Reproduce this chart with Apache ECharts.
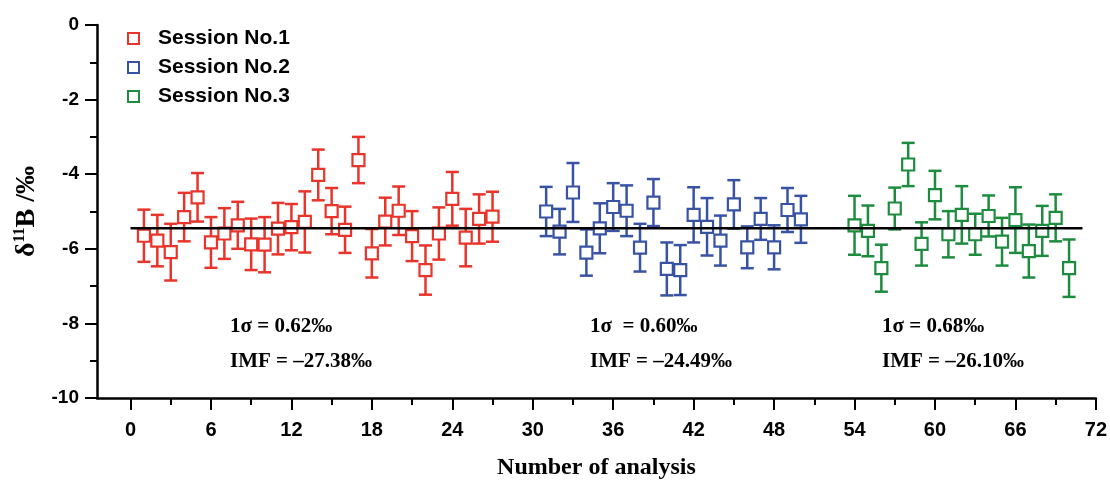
<!DOCTYPE html>
<html>
<head>
<meta charset="utf-8">
<script src="https://cdn.jsdelivr.net/npm/echarts@6/dist/echarts.min.js"></script>
<style>html,body{margin:0;padding:0;background:#fff;}#chart{width:1110px;height:486px;}</style>
</head>
<body>
<div id="chart"></div>
<script>
// ---- data ----
const s1X = [1,2,3,4,5,6,7,8,9,10,11,12,13,14,15,16,17,18,19,20,21,22,23,24,25,26,27];
const s1Y = [-5.65,-5.78,-6.09,-5.15,-4.62,-5.83,-5.59,-5.37,-5.88,-5.89,-5.46,-5.42,-5.28,-4.02,-4.99,-5.49,-3.62,-6.12,-5.27,-4.98,-5.66,-6.57,-5.59,-4.66,-5.70,-5.20,-5.14];
const s1Err = [0.70,0.69,0.76,0.65,0.65,0.68,0.68,0.63,0.69,0.74,0.69,0.62,0.82,0.68,0.62,0.62,0.62,0.65,0.64,0.65,0.67,0.66,0.70,0.72,0.77,0.66,0.67];

const s2X = [31,32,33,34,35,36,37,38,39,40,41,42,43,44,45,46,47,48,49,50];
const s2Y = [-5.00,-5.54,-4.49,-6.10,-5.45,-4.88,-4.98,-5.97,-4.76,-6.54,-6.57,-5.09,-5.41,-5.78,-4.81,-5.96,-5.20,-5.96,-4.96,-5.21];
const s2Err = [0.66,0.61,0.79,0.62,0.67,0.64,0.68,0.64,0.63,0.71,0.67,0.74,0.77,0.67,0.65,0.56,0.56,0.59,0.59,0.63];

const s3X = [54,55,56,57,58,59,60,61,62,63,64,65,66,67,68,69,70];
const s3Y = [-5.37,-5.52,-6.52,-4.92,-3.74,-5.87,-4.56,-5.61,-5.09,-5.61,-5.12,-5.81,-5.23,-6.06,-5.52,-5.17,-6.52];
const s3Err = [0.79,0.68,0.63,0.56,0.58,0.58,0.65,0.62,0.77,0.55,0.55,0.64,0.88,0.71,0.67,0.63,0.77];

const seriesNames = ['Session No.1','Session No.2','Session No.3'];
const meanX = [0, 71];
const meanY = -5.45;

const xMajorTicks = [0,6,12,18,24,30,36,42,48,54,60,66,72];
const xMinorTicks = [3,9,15,21,27,33,39,45,51,57,63,69];

const annot1 = ['1σ = 0.62‰', 'IMF = –27.38‰'];
const annot2 = ['1σ  = 0.60‰', 'IMF = –24.49‰'];
const annot3 = ['1σ = 0.68‰', 'IMF = –26.10‰'];

// ---- styling ----
const colors = ['#e8342a', '#3852a4', '#1e8c3e'];
const sets = [[s1X,s1Y,s1Err],[s2X,s2Y,s2Err],[s3X,s3Y,s3Err]];

function errRender(color) {
  return function (params, api) {
    const x = api.value(0), y = api.value(1), e = api.value(2);
    const t = api.coord([x, y + e]);
    const b = api.coord([x, y - e]);
    const hw = 6.5;
    const st = { stroke: color, lineWidth: 2.5, fill: null };
    return { type: 'group', children: [
      { type: 'line', shape: { x1: t[0], y1: t[1], x2: b[0], y2: b[1] }, style: st },
      { type: 'line', shape: { x1: t[0]-hw, y1: t[1], x2: t[0]+hw, y2: t[1] }, style: st },
      { type: 'line', shape: { x1: b[0]-hw, y1: b[1], x2: b[0]+hw, y2: b[1] }, style: st }
    ]};
  };
}

const series = [];
sets.forEach((s, i) => {
  const [xs, ys, es] = s;
  series.push({
    type: 'custom', xAxisIndex: 0, yAxisIndex: 0, z: 2,
    renderItem: errRender(colors[i]),
    data: xs.map((x, k) => [x, ys[k], es[k]]),
    silent: true
  });
});
series.push({
  type: 'line', z: 5, symbol: 'none', silent: true,
  data: meanX.map(x => [x, meanY]),
  lineStyle: { color: '#000', width: 2.5 }
});
sets.forEach((s, i) => {
  const [xs, ys] = s;
  series.push({
    name: seriesNames[i], type: 'scatter', z: 4,
    symbol: 'rect', symbolSize: 12,
    itemStyle: { color: '#fff', borderColor: colors[i], borderWidth: 2.2, opacity: 1 },
    data: xs.map((x, k) => [x, ys[k]])
  });
});

const serif = '"Liberation Serif","Times New Roman",serif';
function annotText(lines, x) {
  return lines.map((t, k) => ({
    type: 'text', x: x, y: k === 0 ? 327 : 362, silent: true,
    style: { text: t, font: 'bold 21px ' + serif, fill: '#000', verticalAlign: 'middle', align: 'left' }
  }));
}

const option = {
  animation: false,
  backgroundColor: '#fff',
  grid: { left: 97, right: 13, top: 25, bottom: 88 },
  legend: {
    data: seriesNames,
    orient: 'vertical', left: 122, top: 23,
    itemWidth: 11, itemHeight: 11, itemGap: 8,
    selectedMode: false,
    textStyle: { fontFamily: '"Liberation Sans",Arial,sans-serif', fontWeight: 'bold', fontSize: 21, color: '#000', padding: [0,0,0,14] }
  },
  xAxis: [{
    type: 'value', min: -2.5, max: 72, position: 'bottom',
    name: 'Number of analysis', nameLocation: 'middle', nameGap: 58,
    nameTextStyle: { fontFamily: serif, fontWeight: 'bold', fontSize: 24, color: '#000' },
    axisLine: { show: true, onZero: false, lineStyle: { color: '#000', width: 2.5 } },
    axisTick: { show: true, inside: false, length: 12, customValues: xMajorTicks, lineStyle: { color: '#000', width: 2 } },
    axisLabel: { show: true, customValues: xMajorTicks, margin: 22, color: '#000',
      fontFamily: '"Liberation Sans Narrow","Arial Narrow","Liberation Sans",sans-serif', fontWeight: 'bold', fontSize: 20 },
    splitLine: { show: false }
  }, {
    type: 'value', min: -2.5, max: 72, position: 'bottom', gridIndex: 0,
    axisLine: { show: false, onZero: false },
    axisTick: { show: true, inside: false, length: 7, customValues: xMinorTicks, lineStyle: { color: '#000', width: 2 } },
    axisLabel: { show: false },
    splitLine: { show: false }
  }],
  yAxis: {
    type: 'value', min: -10, max: 0, interval: 2,
    name: '{a|δ}{b|11}{a|B /‰}', nameLocation: 'middle', nameGap: 55, nameRotate: 90,
    nameTextStyle: {
      color: '#000',
      rich: {
        a: { fontFamily: serif, fontWeight: 'bold', fontSize: 28, lineHeight: 30, color: '#000' },
        b: { fontFamily: serif, fontWeight: 'bold', fontSize: 16, lineHeight: 30, verticalAlign: 'top', color: '#000' }
      }
    },
    axisLine: { show: true, onZero: false, lineStyle: { color: '#000', width: 2.5 } },
    axisTick: { show: true, inside: false, length: 12, lineStyle: { color: '#000', width: 2 } },
    minorTick: { show: true, splitNumber: 2, length: 7, lineStyle: { color: '#000', width: 2 } },
    axisLabel: { margin: 18, color: '#000', fontFamily: '"Liberation Sans",Arial,sans-serif', fontWeight: 'bold', fontSize: 19 },
    splitLine: { show: false }
  },
  graphic: [].concat(annotText(annot1, 230), annotText(annot2, 590), annotText(annot3, 882)),
  series: series
};

const chart = echarts.init(document.getElementById('chart'), null, { renderer: 'canvas' });
chart.setOption(option);
</script>
</body>
</html>
